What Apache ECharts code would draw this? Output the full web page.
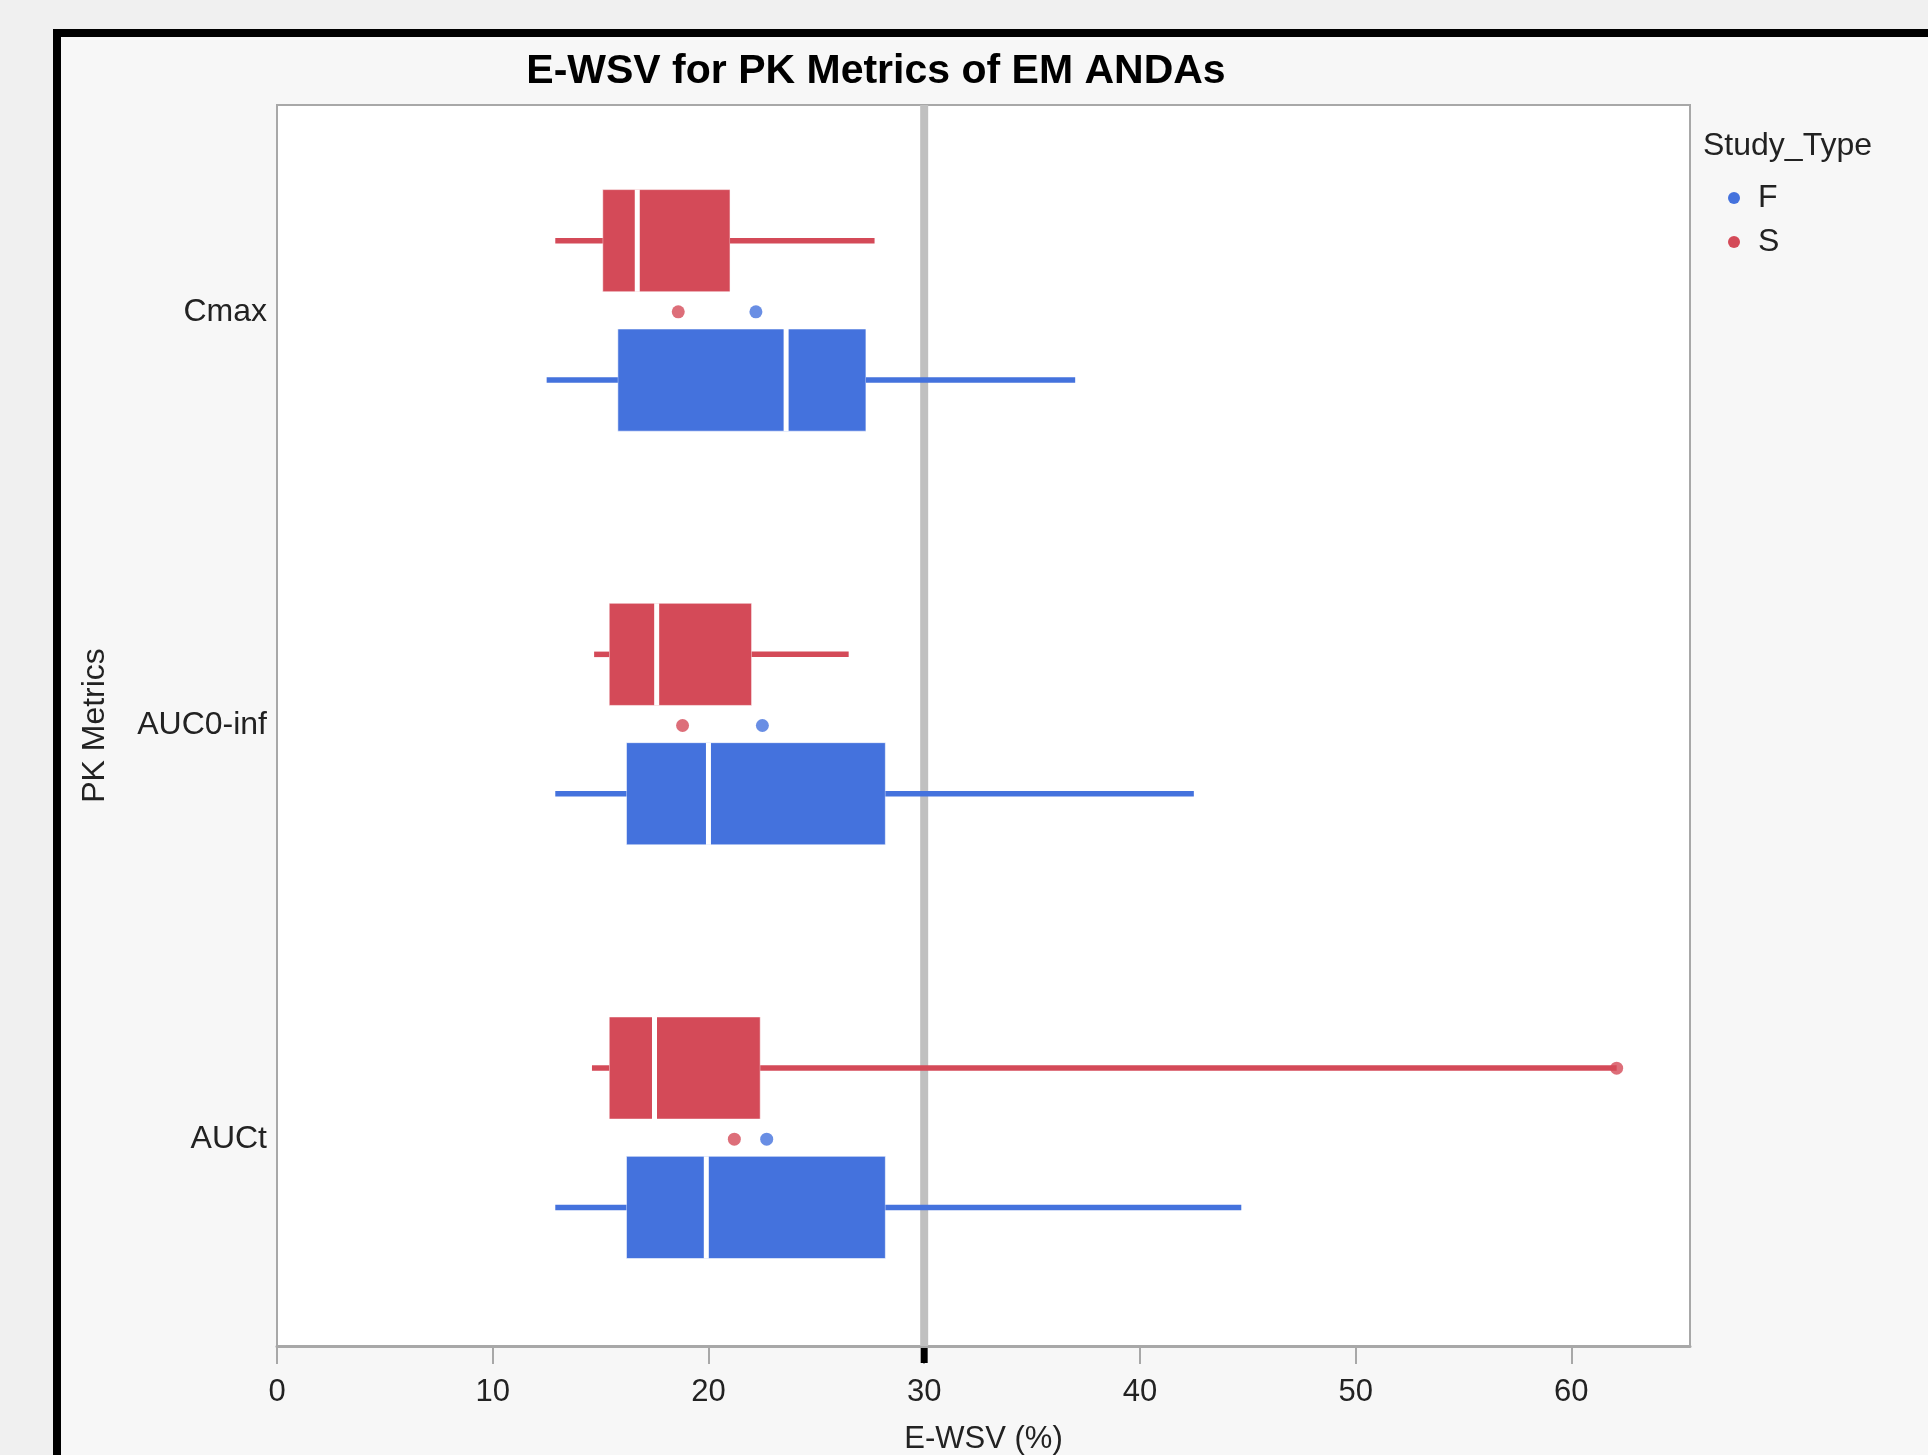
<!DOCTYPE html>
<html>
<head>
<meta charset="utf-8">
<script src="https://cdn.jsdelivr.net/npm/echarts@6/dist/echarts.min.js"></script>
<style>
html,body{margin:0;padding:0;background:#f0f0f0;}
#chart{width:1928px;height:1455px;}
</style>
</head>
<body>
<div id="chart"></div>
<script>
// ---- Data ----
const categories = ['Cmax', 'AUC0-inf', 'AUCt'];
const xTicks = [0, 10, 20, 30, 40, 50, 60];
const refValue = 30;

// Study type S (red)
const sLow  = [12.9, 14.7, 14.6];
const sQ1   = [15.1, 15.4, 15.4];
const sMed  = [16.7, 17.6, 17.5];
const sQ3   = [21.0, 22.0, 22.4];
const sHigh = [27.7, 26.5, 62.1];
const sMean = [18.6, 18.8, 21.2];
const sOutliers = [[62.1, 'AUCt']];

// Study type F (blue)
const fLow  = [12.5, 12.9, 12.9];
const fQ1   = [15.8, 16.2, 16.2];
const fMed  = [23.6, 20.0, 19.9];
const fQ3   = [27.3, 28.2, 28.2];
const fHigh = [37.0, 42.5, 44.7];
const fMean = [22.2, 22.5, 22.7];

const RED = '#D44A58';
const BLUE = '#4472DD';
const FONT = '"Liberation Sans", Arial, sans-serif';

const S_OFF = -0.172, F_OFF = 0.165, BOX_H = 0.247;

function boxData(low, q1, med, q3, high) {
  return categories.map((c, i) => [i, low[i], q1[i], med[i], q3[i], high[i]]);
}

function makeRender(offFrac) {
  return function (params, api) {
    const cat = api.value(0);
    const band = api.size([0, 1])[1];
    const pLow = api.coord([api.value(1), cat]);
    const pQ1 = api.coord([api.value(2), cat]);
    const pMed = api.coord([api.value(3), cat]);
    const pQ3 = api.coord([api.value(4), cat]);
    const pHigh = api.coord([api.value(5), cat]);
    const y = pLow[1] + offFrac * band;
    const h = BOX_H * band;
    const color = api.visual('color');
    return {
      type: 'group',
      children: [
        { type: 'rect', shape: { x: pQ1[0], y: y - h / 2, width: pQ3[0] - pQ1[0], height: h },
          style: { fill: color, stroke: 'rgba(255,255,255,0.55)', lineWidth: 1 } },
        { type: 'line', shape: { x1: pLow[0], y1: y, x2: pQ1[0], y2: y },
          style: { stroke: color, lineWidth: 5.5 } },
        { type: 'line', shape: { x1: pQ3[0], y1: y, x2: pHigh[0], y2: y },
          style: { stroke: color, lineWidth: 5.5 } },
        { type: 'line', shape: { x1: pMed[0], y1: y - h / 2, x2: pMed[0], y2: y + h / 2 },
          style: { stroke: '#ffffff', lineWidth: 5 } }
      ]
    };
  };
}

function renderRef(params, api) {
  const p = api.coord([api.value(0), 0]);
  const cs = params.coordSys;
  const bottom = cs.y + cs.height;
  return {
    type: 'group',
    children: [
      { type: 'line', shape: { x1: p[0], y1: cs.y, x2: p[0], y2: bottom },
        style: { stroke: '#C0C0C0', lineWidth: 8 } },
      { type: 'line', shape: { x1: p[0], y1: bottom + 2, x2: p[0], y2: bottom + 17 },
        style: { stroke: '#000000', lineWidth: 7 } }
    ]
  };
}

const chart = echarts.init(document.getElementById('chart'));
chart.setOption({
  backgroundColor: '#f0f0f0',
  animation: false,
  textStyle: { fontFamily: FONT },
  graphic: [
    { type: 'rect', z: -10, shape: { x: 57, y: 33, width: 2100, height: 2000 },
      style: { fill: '#f7f7f7', stroke: '#000', lineWidth: 8 } },
    { type: 'text', x: 876, y: 72,
      style: { text: 'E-WSV for PK Metrics of EM ANDAs', fontFamily: FONT, fontWeight: 'bold',
               fontSize: 41, fill: '#000', align: 'center', verticalAlign: 'middle' } },
    { type: 'text', x: 1703, y: 146,
      style: { text: 'Study_Type', fontFamily: FONT, fontSize: 32, fill: '#222',
               align: 'left', verticalAlign: 'middle' } }
  ],
  legend: {
    orient: 'vertical',
    left: 1723,
    top: 177,
    itemWidth: 12,
    itemHeight: 12,
    itemGap: 12,
    icon: 'circle',
    data: ['F', 'S'],
    textStyle: { fontFamily: FONT, fontSize: 32, color: '#222', padding: [0, 0, 0, 13] }
  },
  grid: {
    left: 277, right: 238, top: 105, bottom: 109,
    outerBoundsMode: 'none',
    show: true, backgroundColor: '#ffffff', borderColor: '#A8A8A8', borderWidth: 2,
    containLabel: false
  },
  xAxis: {
    type: 'value',
    min: 0, max: 65.5, interval: 10,
    name: 'E-WSV (%)',
    nameLocation: 'middle',
    nameGap: 78,
    nameTextStyle: { fontFamily: FONT, fontSize: 31, color: '#222' },
    axisLine: { show: true, lineStyle: { color: '#A8A8A8', width: 3 } },
    axisTick: { show: true, length: 18, lineStyle: { color: '#A8A8A8', width: 2 }, customValues: xTicks },
    axisLabel: { fontFamily: FONT, fontSize: 31, color: '#222', margin: 31, customValues: xTicks },
    splitLine: { show: false }
  },
  yAxis: {
    type: 'category',
    data: categories,
    inverse: true,
    name: 'PK Metrics',
    nameLocation: 'middle',
    nameRotate: 90,
    nameGap: 166,
    nameTextStyle: { fontFamily: FONT, fontSize: 32, color: '#222' },
    axisLine: { show: false },
    axisTick: { show: false },
    axisLabel: { fontFamily: FONT, fontSize: 32, color: '#222', margin: 10, padding: [6, 0, 0, 0] },
    splitLine: { show: false }
  },
  series: [
    { name: 'ref', type: 'custom', data: [[refValue]], renderItem: renderRef, clip: false, z: 1,
      encode: { x: 0 }, silent: true },
    { name: 'F', type: 'custom', itemStyle: { color: BLUE }, renderItem: makeRender(F_OFF),
      data: boxData(fLow, fQ1, fMed, fQ3, fHigh), encode: { x: [1, 2, 3, 4, 5], y: 0 }, z: 2 },
    { name: 'S', type: 'custom', itemStyle: { color: RED }, renderItem: makeRender(S_OFF),
      data: boxData(sLow, sQ1, sMed, sQ3, sHigh), encode: { x: [1, 2, 3, 4, 5], y: 0 }, z: 2 },
    { name: 'F', type: 'scatter', symbol: 'circle', symbolSize: 13, itemStyle: { color: BLUE },
      data: categories.map((c, i) => [fMean[i], c]), z: 3 },
    { name: 'S', type: 'scatter', symbol: 'circle', symbolSize: 13, itemStyle: { color: RED },
      data: categories.map((c, i) => [sMean[i], c]), z: 3 },
    { name: 'S', type: 'scatter', symbol: 'circle', symbolSize: 13, itemStyle: { color: RED },
      symbolOffset: [0, -71], data: sOutliers, z: 3 }
  ]
});
</script>
</body>
</html>
